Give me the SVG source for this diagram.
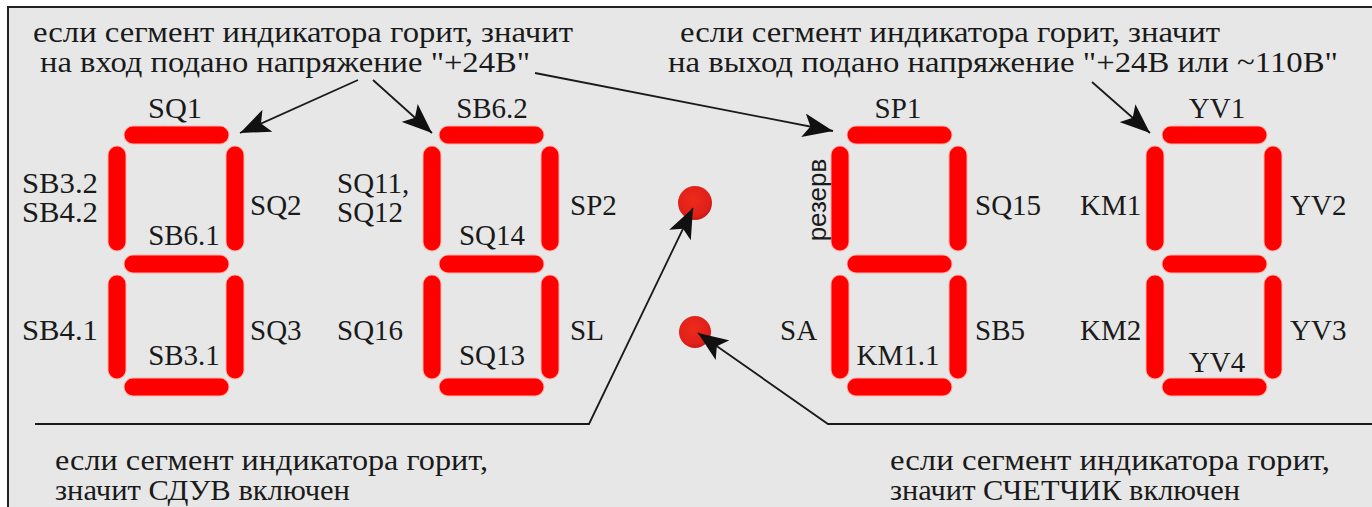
<svg xmlns="http://www.w3.org/2000/svg" width="1372" height="507" viewBox="0 0 1372 507">
<defs>
<style>
.t{font-size:29px;fill:#1a1a1a}
.l{font-size:29px;fill:#1a1a1a}
.s{font-family:'Liberation Sans',Arimo,Arial,sans-serif;font-size:26px;fill:#1a1a1a}
.seg{stroke:#ff0000;stroke-width:17;stroke-linecap:round;fill:none}
.halo{stroke:#ffb0a8;stroke-width:19;stroke-linecap:round;fill:none}
.c{stroke:#1a1a1a;stroke-width:1.8;fill:none}
</style>
<marker id="ah" markerUnits="userSpaceOnUse" markerWidth="32" markerHeight="24" refX="30" refY="12" orient="auto">
<path d="M0,0 L30,12 L0,24 L7,12 Z" fill="#111"/>
</marker>
<radialGradient id="dot" cx="0.45" cy="0.4" r="0.6">
<stop offset="0" stop-color="#ee2a1a"/>
<stop offset="0.8" stop-color="#e0201a"/>
<stop offset="1" stop-color="#c81a14"/>
</radialGradient>
<g id="digit">
<path class="halo" d="M133,135H220M117,155V242M235,155V242M133,264H220M117,284V370M235,284V370M133,387H220"/>
<path class="seg" d="M133,135H220M117,155V242M235,155V242M133,264H220M117,284V370M235,284V370M133,387H220"/>
</g>
</defs>
<rect x="0" y="0" width="1372" height="507" fill="#ffffff"/>
<rect x="8" y="7" width="1380" height="520" fill="#e7e7e7" stroke="#222" stroke-width="2"/>

<g font-family="Liberation Serif, DejaVu Serif, serif">
<g id="digit1"><use href="#digit"/>
<text class="l" x="175" y="118" text-anchor="middle" textLength="54" lengthAdjust="spacingAndGlyphs">SQ1</text>
<text class="l" x="22" y="193" textLength="76" lengthAdjust="spacingAndGlyphs">SB3.2</text>
<text class="l" x="22" y="222" textLength="76" lengthAdjust="spacingAndGlyphs">SB4.2</text>
<text class="l" x="250" y="215">SQ2</text>
<text class="l" x="184" y="245" text-anchor="middle">SB6.1</text>
<text class="l" x="22" y="340" textLength="76" lengthAdjust="spacingAndGlyphs">SB4.1</text>
<text class="l" x="250" y="340">SQ3</text>
<text class="l" x="184" y="365" text-anchor="middle">SB3.1</text>
</g>

<g id="digit2"><use href="#digit" transform="translate(315,0)"/>
<text class="l" x="492" y="118" text-anchor="middle">SB6.2</text>
<text class="l" x="337" y="193">SQ11,</text>
<text class="l" x="337" y="222">SQ12</text>
<text class="l" x="570" y="215">SP2</text>
<text class="l" x="492" y="245" text-anchor="middle">SQ14</text>
<text class="l" x="337" y="340">SQ16</text>
<text class="l" x="570" y="340">SL</text>
<text class="l" x="492" y="365" text-anchor="middle">SQ13</text>
</g>

<g id="dot1"><circle cx="695" cy="203" r="17" fill="url(#dot)"/></g>
<g id="dot2"><circle cx="695" cy="332" r="16" fill="url(#dot)"/></g>

<g id="digit3"><use href="#digit" transform="translate(723,0)"/>
<text class="l" x="898" y="118" text-anchor="middle">SP1</text>
<text class="s" transform="translate(826,200) rotate(-90)" text-anchor="middle">резерв</text>
<text class="l" x="975" y="215">SQ15</text>
<text class="l" x="780" y="340">SA</text>
<text class="l" x="898" y="365" text-anchor="middle">KM1.1</text>
<text class="l" x="975" y="340">SB5</text>
</g>

<g id="digit4"><use href="#digit" transform="translate(1038,0)"/>
<text class="l" x="1217" y="118" text-anchor="middle">YV1</text>
<text class="l" x="1080" y="215">KM1</text>
<text class="l" x="1290" y="215">YV2</text>
<text class="l" x="1080" y="340">KM2</text>
<text class="l" x="1290" y="340">YV3</text>
<text class="l" x="1217" y="372" text-anchor="middle">YV4</text>
</g>

<g id="note-in">
<text class="t" x="33" y="42" textLength="540" lengthAdjust="spacingAndGlyphs">если сегмент индикатора горит, значит</text>
<text class="t" x="40" y="72" textLength="490" lengthAdjust="spacingAndGlyphs">на вход подано напряжение "+24В"</text>
</g>
<g id="note-out">
<text class="t" x="680" y="42" textLength="540" lengthAdjust="spacingAndGlyphs">если сегмент индикатора горит, значит</text>
<text class="t" x="668" y="72" textLength="670" lengthAdjust="spacingAndGlyphs">на выход подано напряжение "+24В или ~110В"</text>
</g>
<g id="note-sduv">
<text class="t" x="55" y="470" textLength="433" lengthAdjust="spacingAndGlyphs">если сегмент индикатора горит,</text>
<text class="t" x="55" y="500" textLength="295" lengthAdjust="spacingAndGlyphs">значит СДУВ включен</text>
</g>
<g id="note-counter">
<text class="t" x="890" y="470" textLength="440" lengthAdjust="spacingAndGlyphs">если сегмент индикатора горит,</text>
<text class="t" x="890" y="500" textLength="350" lengthAdjust="spacingAndGlyphs">значит СЧЕТЧИК включен</text>
</g>
</g>

<g id="connectors">
<path class="c" d="M358,80L240,133" marker-end="url(#ah)"/>
<path class="c" d="M373,80L432,133" marker-end="url(#ah)"/>
<path class="c" d="M535,73L833,131" marker-end="url(#ah)"/>
<path class="c" d="M1092,82L1150,133" marker-end="url(#ah)"/>
<path class="c" d="M35,424H589L693,208" marker-end="url(#ah)"/>
<path class="c" d="M1372,424H828L698,333" marker-end="url(#ah)"/>
</g>
</svg>
